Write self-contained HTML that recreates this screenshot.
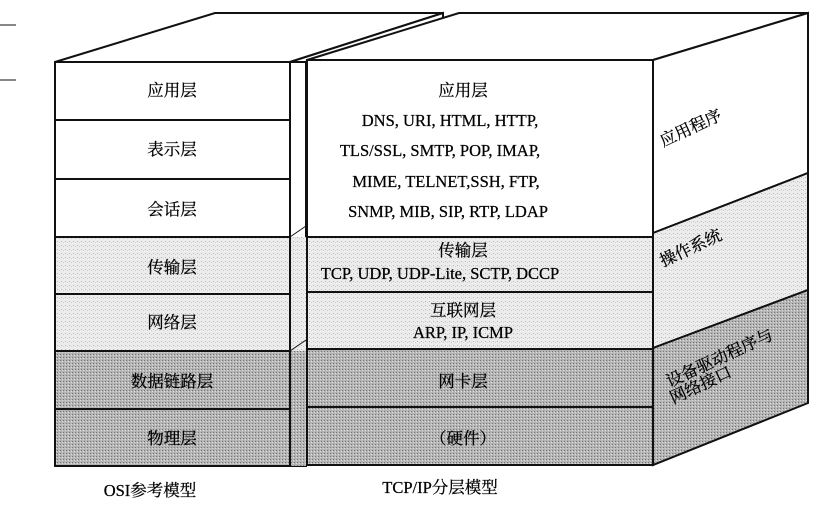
<!DOCTYPE html>
<html><head><meta charset="utf-8"><style>
body{margin:0;background:#fff}
svg{display:block}
text{font-family:"Liberation Serif","Noto Serif CJK SC",serif;font-size:16.5px;fill:#000;text-anchor:middle;stroke:#000;stroke-width:0.25}
</style></head><body>
<svg width="832" height="511" viewBox="0 0 832 511">
<defs>
<pattern id="lt" width="4" height="4" patternUnits="userSpaceOnUse"><rect width="4" height="4" fill="#ececec"/><rect x="1" y="1" width="1" height="1" fill="#b8b8b8"/><rect x="3" y="2" width="1" height="1" fill="#d0d0d0"/></pattern>
<pattern id="dk" width="3" height="3" patternUnits="userSpaceOnUse"><rect width="3" height="3" fill="#b4b4b4"/><rect x="0" y="0" width="1" height="1" fill="#777"/><rect x="2" y="1" width="1" height="1" fill="#e0e0e0"/></pattern>
</defs>
<g stroke="#111" stroke-width="2">
<line x1="0" y1="25" x2="16" y2="25" stroke-width="1"/>
<line x1="0" y1="80" x2="16" y2="80" stroke-width="1"/>
<polygon points="55,62 215,13 443,13 290,62" fill="#fff"/>
<polygon points="290,62 443,13 443,30 305,62" fill="#fff"/>
<rect x="290" y="62" width="16" height="404" fill="#fff"/>
<rect x="290" y="237" width="16" height="114" fill="url(#lt)" stroke="none"/>
<rect x="290" y="351" width="16" height="115" fill="url(#dk)" stroke="none"/>
<line x1="290" y1="237" x2="306" y2="226" stroke-width="1"/>
<line x1="290" y1="351" x2="306" y2="340" stroke-width="1"/>
<rect x="55" y="62" width="235" height="175" fill="#fff"/>
<rect x="55" y="237" width="235" height="114" fill="url(#lt)"/>
<rect x="55" y="351" width="235" height="115" fill="url(#dk)"/>
<line x1="55" y1="120" x2="290" y2="120"/>
<line x1="55" y1="179" x2="290" y2="179"/>
<line x1="55" y1="294" x2="290" y2="294"/>
<line x1="55" y1="409" x2="290" y2="409"/>
<polygon points="307,60 459,13 808,13 653,60" fill="#fff"/>
<polygon points="653,60 808,13 808,173 653,233" fill="#fff"/>
<polygon points="653,233 808,173 808,290 653,348" fill="url(#lt)"/>
<polygon points="653,348 808,290 808,403 653,465" fill="url(#dk)"/>
<rect x="307" y="60" width="346" height="177" fill="#fff"/>
<rect x="307" y="237" width="346" height="112" fill="url(#lt)"/>
<rect x="307" y="349" width="346" height="116" fill="url(#dk)"/>
<line x1="307" y1="292" x2="653" y2="292"/>
<line x1="307" y1="407" x2="653" y2="407"/>
</g>
<text x="172" y="96">应用层</text>
<text x="172" y="155">表示层</text>
<text x="172" y="215">会话层</text>
<text x="172" y="273">传输层</text>
<text x="172" y="328">网络层</text>
<text x="172" y="387">数据链路层</text>
<text x="172" y="444">物理层</text>
<text x="463" y="96">应用层</text>
<text x="450" y="126">DNS, URI, HTML, HTTP,</text>
<text x="440" y="156">TLS/SSL, SMTP, POP, IMAP,</text>
<text x="446" y="187">MIME, TELNET,SSH, FTP,</text>
<text x="448" y="217">SNMP, MIB, SIP, RTP, LDAP</text>
<text x="463" y="256">传输层</text>
<text x="440" y="279">TCP, UDP, UDP-Lite, SCTP, DCCP</text>
<text x="463" y="316">互联网层</text>
<text x="463" y="338">ARP, IP, ICMP</text>
<text x="463" y="387">网卡层</text>
<text x="463" y="444">（硬件）</text>
<text x="150" y="496">OSI参考模型</text>
<text x="440" y="493">TCP/IP分层模型</text>
<text x="0" y="0" transform="translate(693,133) rotate(-25)">应用程序</text>
<text x="0" y="0" transform="translate(693,253) rotate(-25)">操作系统</text>
<text x="0" y="0" transform="translate(722,363) rotate(-25)">设备驱动程序与</text>
<text x="0" y="0" transform="translate(703,390) rotate(-25)">网络接口</text>
</svg>
</body></html>
